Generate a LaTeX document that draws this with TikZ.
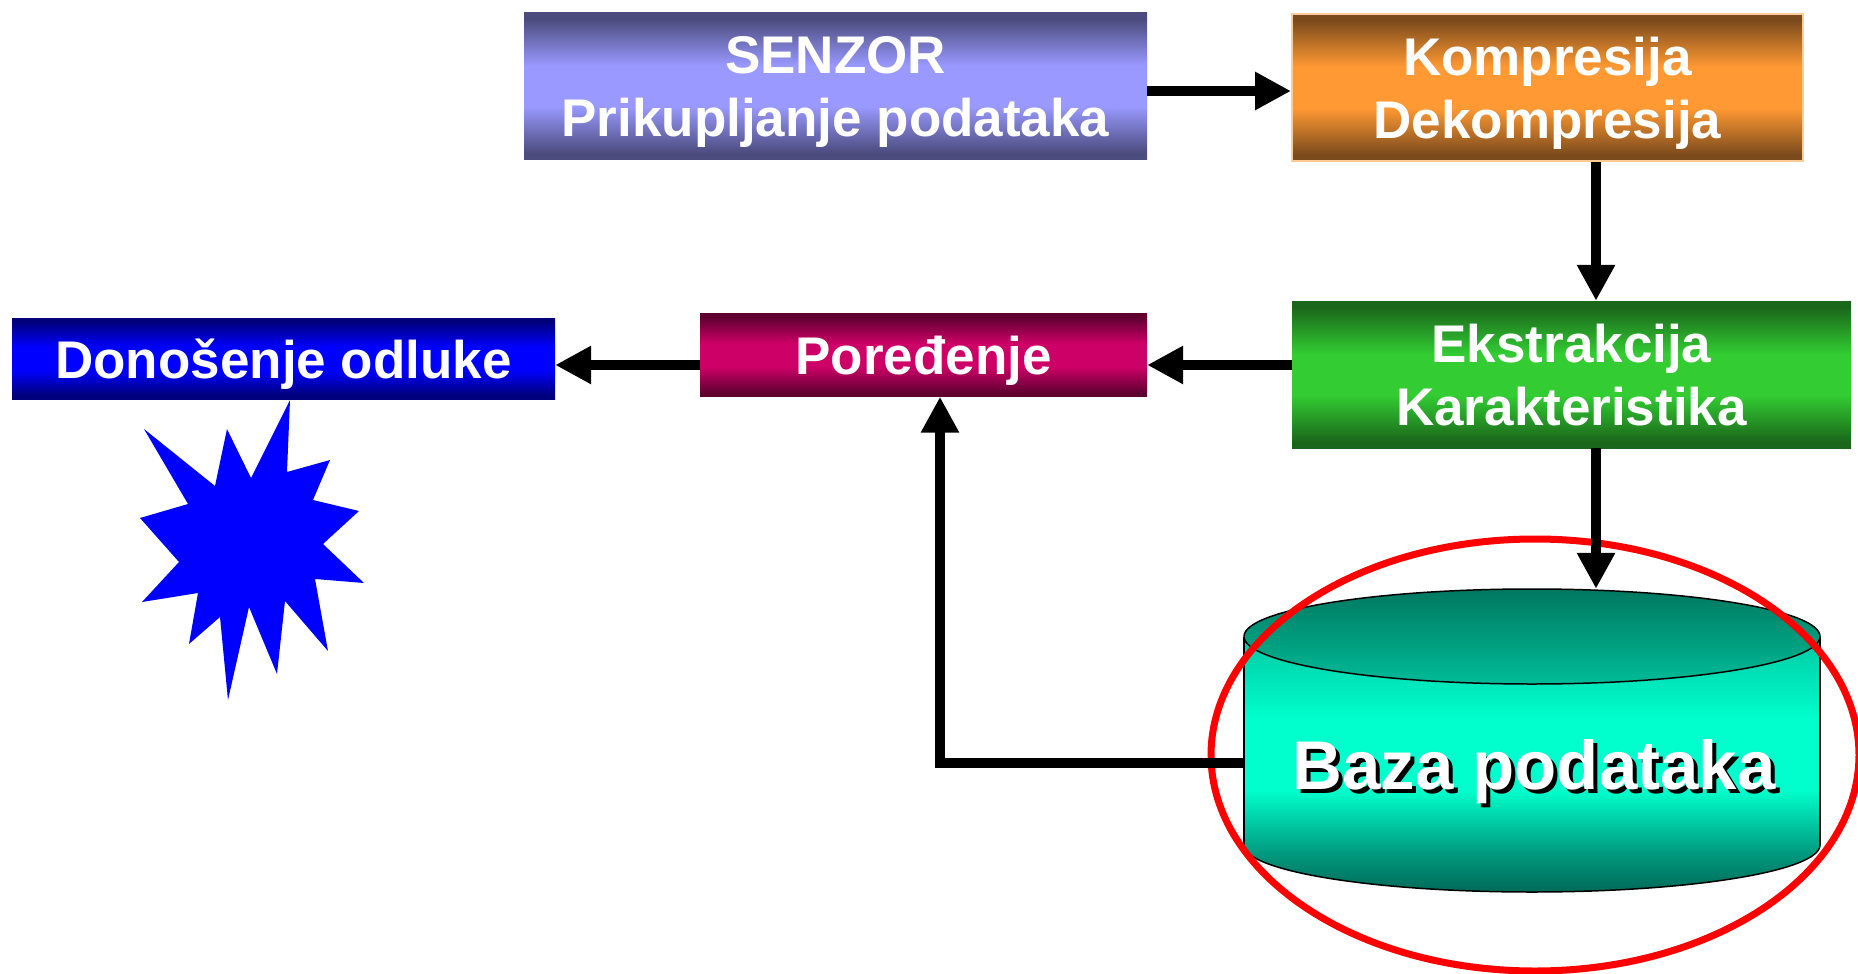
\documentclass[tikz,border=0pt]{standalone}
\usepackage{fontspec}
\setmainfont{Liberation Sans}
\usetikzlibrary{arrows.meta,calc}

\definecolor{senzE}{HTML}{4B4B7D}
\definecolor{senzM}{HTML}{9999FF}
\definecolor{kompE}{HTML}{7A4A1C}
\definecolor{kompM}{HTML}{FF9933}
\definecolor{kompB}{HTML}{FFCC99}
\definecolor{donE}{HTML}{00007A}
\definecolor{donM}{HTML}{0000FF}
\definecolor{porE}{HTML}{5E0030}
\definecolor{porM}{HTML}{CC0066}
\definecolor{ekE}{HTML}{1A661A}
\definecolor{ekM}{HTML}{33CC33}
\definecolor{cylD}{HTML}{006A58}
\definecolor{cylQ}{HTML}{009C80}
\definecolor{cylB}{HTML}{00FFCC}
\definecolor{cylT}{HTML}{00C8A4}
\definecolor{capT}{HTML}{007860}
\definecolor{capB}{HTML}{00BC98}

\newcommand\mybandshading[3]{\pgfdeclareverticalshading{#1}{100bp}{color(0bp)=(#2); color(25bp)=(#2); color(27bp)=(#2); color(43bp)=(#3); color(57bp)=(#3); color(73bp)=(#2); color(75bp)=(#2); color(100bp)=(#2)}}
\mybandshading{senzSh}{senzE}{senzM}
\mybandshading{kompSh}{kompE}{kompM}
\mybandshading{donSh}{donE}{donM}
\mybandshading{porSh}{porE}{porM}
\mybandshading{ekSh}{ekE}{ekM}
\pgfdeclareverticalshading{cylSh}{100bp}{color(0bp)=(cylD); color(25bp)=(cylD); color(33bp)=(cylQ); color(45bp)=(cylB); color(59bp)=(cylB); color(75bp)=(cylT); color(100bp)=(cylT)}

\tikzset{
  box/.style={rectangle, inner sep=0pt, draw=none},
  lbl/.style={text=white, font=\bfseries\fontsize{53}{63}\selectfont, inner sep=0pt, anchor=base},
  arr/.style={line width=10pt, line join=miter, -{Triangle[length=36pt,width=36pt]}},
}

\begin{document}
\begin{tikzpicture}[x=1pt,y=-1pt]
\useasboundingbox (0,0) rectangle (1858,974);

% boxes
\node[box, shading=senzSh, minimum width=623pt, minimum height=146pt] (senzor) at (835.5,86) {};
\node[box, shading=kompSh, draw=kompB, line width=2pt, minimum width=511pt, minimum height=147pt] (kompr) at (1547.5,87.5) {};
\node[box, shading=ekSh, minimum width=559pt, minimum height=147pt] (ekstr) at (1571.5,374.5) {};
\node[box, shading=porSh, minimum width=447pt, minimum height=83pt] (pored) at (923.5,355) {};
\node[box, shading=donSh, minimum width=543pt, minimum height=81pt] (donos) at (283.5,358.5) {};

% labels
\node[lbl] (senzorA) at ([yshift=12.2pt]senzor.center) {SENZOR};
\node[lbl] (senzorB) at ([yshift=-50.8pt]senzor.center) {Prikupljanje podataka};
\node[lbl] (komprA) at ([yshift=12.2pt]kompr.center) {Kompresija};
\node[lbl] (komprB) at ([yshift=-50.8pt]kompr.center) {Dekompresija};
\node[lbl] (ekstrA) at ([yshift=12.2pt]ekstr.center) {Ekstrakcija};
\node[lbl] (ekstrB) at ([yshift=-50.8pt]ekstr.center) {Karakteristika};
\node[lbl] (poredA) at ([yshift=-19.5pt]pored.center) {Poređenje};
\node[lbl] (donosA) at ([yshift=-19.5pt]donos.center) {Donošenje odluke};

% star
\fill[donM] (290,400) -- (287,472) -- (330,460) -- (313,500) -- (359,511) -- (323,544)
  -- (364,583) -- (315,579) -- (328,651) -- (285,601) -- (277,674) -- (249,607)
  -- (228,700) -- (220,617) -- (189,644) -- (198,593) -- (142,602) -- (179,562)
  -- (140,518) -- (188,504) -- (144,429) -- (215,486) -- (227,429) -- (251,478) -- cycle;

% database cylinder
\node[box, minimum width=576pt, minimum height=303pt] (baza) at (1532,740.5) {};
\shade[shading=cylSh] (1244,637) rectangle (1820,845) (1532,845) ellipse [x radius=288pt, y radius=47pt];
\begin{scope}
  \clip (1200,845) rectangle (1870,900);
  \draw[line width=1.5pt] (1532,845) ellipse [x radius=288pt, y radius=47pt];
\end{scope}
\draw[line width=1.5pt] (1244,637) -- (1244,845) (1820,637) -- (1820,845);
\shade[top color=capT, bottom color=capB, draw=black, line width=1.5pt] (1532,636.5) ellipse [x radius=288pt, y radius=47.5pt];
\node[inner sep=0pt, anchor=base, text=white, font=\bfseries\fontsize{69}{80}\selectfont] (bazaT) at (1534,789)
  {\makebox[0pt][l]{\hspace{4pt}\raisebox{-4pt}{\color{black}Baza podataka}}Baza podataka};

% red highlight
\draw[red, line width=7pt] (1535,755) ellipse [x radius=324pt, y radius=216pt];

% connectors
\coordinate (ay) at (0,91);
\coordinate (by) at (0,365);
\coordinate (kx) at (1596,0);
\coordinate (fb) at (940,763);
\draw[arr] (senzor.east |- ay) -- (kompr.west |- ay);
\draw[arr] (kompr.south -| kx) -- (ekstr.north -| kx);
\draw[arr] (ekstr.west |- by) -- (pored.east |- by);
\draw[arr] (pored.west |- by) -- (donos.east |- by);
\draw[arr] (ekstr.south -| kx) -- (baza.north -| kx);
\draw[arr] (baza.west |- fb) -- (fb) -- (pored.south -| fb);
\end{tikzpicture}
\end{document}
